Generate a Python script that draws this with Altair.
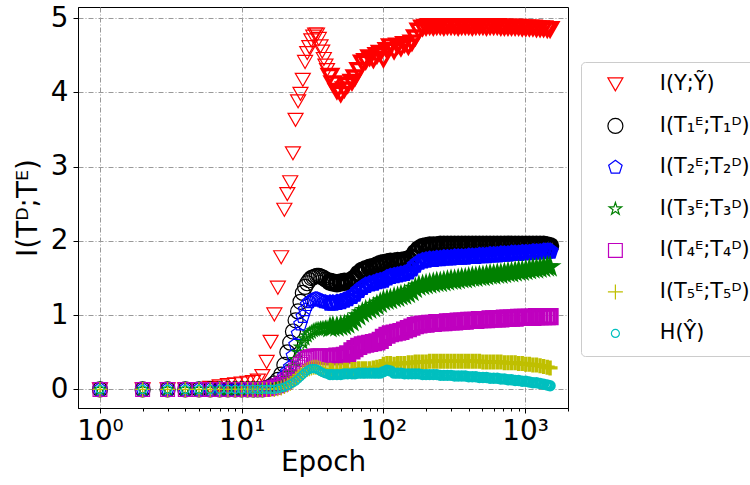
import altair as alt
import pandas as pd

# ---------------- data ----------------
epochs = list(range(1, 41)) + [
    42, 44, 47, 50, 53, 56, 60, 63, 67, 71,
    75, 80, 85, 90, 95, 100, 106, 112, 119, 126,
    133, 141, 150, 159, 168, 178, 189, 200, 212, 225,
    238, 252, 267, 283, 300, 318, 337, 357, 378, 400,
    424, 449, 476, 504, 534, 566, 600, 636, 674, 714,
    757, 802, 850, 900, 954, 1011, 1071, 1135, 1203, 1275,
    1351, 1432, 1500]

red = [0, 0, 0, 0, 0, 0.02, 0.04, 0.06, 0.07, 0.08,
       0.09, 0.1, 0.12, 0.18, 0.37, 0.64, 1.01, 1.37, 1.78, 2.42,
       2.63, 2.79, 3.18, 3.63, 3.88, 3.98, 4.17, 4.41, 4.53, 4.61,
       4.7, 4.75, 4.78, 4.78, 4.72, 4.62, 4.55, 4.45, 4.36, 4.3,
       4.22, 4.12, 4.02, 3.98, 4.04, 4.1, 4.14, 4.2, 4.3, 4.4,
       4.42, 4.47, 4.44, 4.5, 4.53, 4.45, 4.57, 4.62, 4.56, 4.63,
       4.6, 4.65, 4.62, 4.67, 4.74, 4.83, 4.87, 4.88, 4.89, 4.88,
       4.89, 4.89, 4.88, 4.89, 4.89, 4.89, 4.88, 4.89, 4.89, 4.89,
       4.88, 4.89, 4.89, 4.89, 4.88, 4.89, 4.89, 4.89, 4.88, 4.88,
       4.88, 4.88, 4.88, 4.88, 4.87, 4.87, 4.87, 4.87, 4.86, 4.86,
       4.86, 4.85, 4.85]

black = [0, 0, 0, 0, 0, 0, 0, 0, 0, 0,
         0, 0, 0, 0, 0.02, 0.04, 0.08, 0.13, 0.2, 0.33,
         0.5, 0.63, 0.78, 0.93, 1.05, 1.18, 1.3, 1.38, 1.43, 1.47,
         1.5, 1.51, 1.52, 1.53, 1.53, 1.52, 1.51, 1.5, 1.48, 1.47,
         1.45, 1.44, 1.43, 1.44, 1.45, 1.45, 1.47, 1.5, 1.56, 1.6,
         1.62, 1.64, 1.65, 1.67, 1.69, 1.7, 1.71, 1.72, 1.72, 1.73,
         1.73, 1.74, 1.75, 1.78, 1.84, 1.89, 1.92, 1.93, 1.94, 1.94,
         1.94, 1.95, 1.95, 1.95, 1.95, 1.95, 1.95, 1.95, 1.95, 1.95,
         1.95, 1.95, 1.95, 1.95, 1.95, 1.95, 1.95, 1.95, 1.95, 1.95,
         1.95, 1.95, 1.95, 1.95, 1.95, 1.95, 1.95, 1.95, 1.95, 1.95,
         1.95, 1.94, 1.93]

blue = [0, 0, 0, 0, 0, 0, 0, 0, 0, 0,
        0, 0, 0, 0, 0, 0.02, 0.04, 0.07, 0.11, 0.18,
        0.24, 0.3, 0.45, 0.6, 0.75, 0.88, 0.98, 1.07, 1.14, 1.18,
        1.2, 1.21, 1.22, 1.22, 1.21, 1.2, 1.19, 1.18, 1.18, 1.17,
        1.16, 1.16, 1.17, 1.18, 1.2, 1.22, 1.25, 1.28, 1.33, 1.37,
        1.4, 1.42, 1.43, 1.45, 1.46, 1.47, 1.5, 1.52, 1.53, 1.54,
        1.55, 1.56, 1.58, 1.62, 1.67, 1.71, 1.73, 1.74, 1.75, 1.75,
        1.76, 1.76, 1.77, 1.77, 1.77, 1.78, 1.78, 1.78, 1.78, 1.79,
        1.79, 1.79, 1.8, 1.8, 1.8, 1.81, 1.81, 1.81, 1.82, 1.82,
        1.82, 1.83, 1.83, 1.83, 1.84, 1.84, 1.84, 1.85, 1.85, 1.85,
        1.86, 1.86, 1.86]

green = [0, 0, 0, 0, 0, 0, 0, 0, 0, 0,
         0, 0, 0, 0, 0, 0, 0.02, 0.04, 0.07, 0.1,
         0.15, 0.22, 0.3, 0.4, 0.5, 0.57, 0.63, 0.68, 0.72, 0.75,
         0.77, 0.79, 0.8, 0.81, 0.81, 0.82, 0.82, 0.82, 0.83, 0.83,
         0.83, 0.84, 0.84, 0.85, 0.86, 0.88, 0.91, 0.95, 0.99, 1.03,
         1.06, 1.08, 1.1, 1.13, 1.16, 1.19, 1.2, 1.21, 1.23, 1.24,
         1.26, 1.27, 1.29, 1.32, 1.36, 1.39, 1.4, 1.41, 1.42, 1.43,
         1.44, 1.44, 1.45, 1.46, 1.47, 1.47, 1.48, 1.49, 1.49, 1.5,
         1.51, 1.51, 1.52, 1.52, 1.53, 1.54, 1.54, 1.55, 1.55, 1.56,
         1.57, 1.57, 1.58, 1.59, 1.59, 1.6, 1.61, 1.62, 1.62, 1.63,
         1.64, 1.65, 1.65]

magenta = [0, 0, 0, 0, 0, 0, 0, 0, 0, 0,
           0, 0, 0, 0, 0.01, 0.02, 0.03, 0.05, 0.07, 0.1,
           0.13, 0.17, 0.21, 0.26, 0.3, 0.34, 0.37, 0.4, 0.42, 0.43,
           0.44, 0.44, 0.45, 0.45, 0.45, 0.45, 0.44, 0.44, 0.44, 0.44,
           0.44, 0.44, 0.45, 0.45, 0.46, 0.48, 0.52, 0.55, 0.58, 0.6,
           0.61, 0.62, 0.63, 0.64, 0.66, 0.7, 0.73, 0.75, 0.76, 0.77,
           0.78, 0.8, 0.82, 0.84, 0.86, 0.87, 0.88, 0.88, 0.89, 0.89,
           0.9, 0.9, 0.9, 0.91, 0.91, 0.91, 0.92, 0.92, 0.92, 0.93,
           0.93, 0.93, 0.94, 0.94, 0.94, 0.95, 0.95, 0.95, 0.95, 0.96,
           0.96, 0.96, 0.96, 0.97, 0.97, 0.97, 0.97, 0.97, 0.98, 0.98,
           0.98, 0.98, 0.98]

yellow = [0, 0, 0, 0, 0, 0, 0, 0, 0, 0,
          0, 0, 0, 0, 0, 0, 0, 0.01, 0.02, 0.04,
          0.06, 0.08, 0.11, 0.14, 0.17, 0.2, 0.23, 0.25, 0.27, 0.28,
          0.29, 0.3, 0.3, 0.3, 0.29, 0.28, 0.27, 0.27, 0.26, 0.26,
          0.26, 0.25, 0.25, 0.25, 0.26, 0.26, 0.27, 0.27, 0.28, 0.28,
          0.28, 0.28, 0.29, 0.3, 0.31, 0.34, 0.35, 0.35, 0.34, 0.35,
          0.35, 0.35, 0.36, 0.36, 0.37, 0.37, 0.37, 0.37, 0.38, 0.38,
          0.38, 0.38, 0.38, 0.38, 0.38, 0.38, 0.38, 0.38, 0.38, 0.38,
          0.38, 0.38, 0.38, 0.37, 0.37, 0.37, 0.37, 0.37, 0.37, 0.36,
          0.36, 0.36, 0.36, 0.35, 0.35, 0.34, 0.34, 0.33, 0.33, 0.32,
          0.31, 0.3, 0.29]

cyan = [0, 0, 0, 0, 0, 0, 0, 0, 0, 0,
        0, 0, 0, 0, 0, 0, 0, 0.01, 0.02, 0.03,
        0.05, 0.07, 0.09, 0.11, 0.14, 0.17, 0.2, 0.23, 0.25, 0.27,
        0.28, 0.28, 0.28, 0.27, 0.26, 0.24, 0.23, 0.22, 0.21, 0.21,
        0.2, 0.2, 0.2, 0.2, 0.21, 0.21, 0.21, 0.21, 0.22, 0.22,
        0.22, 0.22, 0.22, 0.22, 0.22, 0.24, 0.26, 0.25, 0.22, 0.22,
        0.22, 0.21, 0.21, 0.21, 0.21, 0.21, 0.2, 0.2, 0.2, 0.2,
        0.2, 0.19, 0.19, 0.19, 0.19, 0.18, 0.18, 0.18, 0.18, 0.17,
        0.17, 0.17, 0.16, 0.16, 0.16, 0.15, 0.15, 0.15, 0.14, 0.14,
        0.13, 0.13, 0.12, 0.12, 0.11, 0.11, 0.1, 0.09, 0.09, 0.08,
        0.07, 0.06, 0.05]

series_names = ["I(Y;Ỹ)", "I(T₁ᴱ;T₁ᴰ)", "I(T₂ᴱ;T₂ᴰ)", "I(T₃ᴱ;T₃ᴰ)",
                "I(T₄ᴱ;T₄ᴰ)", "I(T₅ᴱ;T₅ᴰ)", "H(Ŷ)"]
series_values = [red, black, blue, green, magenta, yellow, cyan]

major_ticks = [1, 10, 100, 1000]
minor_ticks = [2, 3, 4, 5, 6, 7, 8, 9, 20, 30, 40, 50, 60, 70, 80, 90,
               200, 300, 400, 500, 600, 700, 800, 900, 2000]
major_labels = ["10⁰", "10¹", "10²", "10³"]
y_ticks = [0, 1, 2, 3, 4, 5]

# ---------------- styles ----------------
colors = ["#ff0000", "#000000", "#0000ff", "#008000", "#bf00bf", "#bfbf00", "#00bfbf"]
pentagon = "M0,-1L0.951,-0.309L0.588,0.809L-0.588,0.809L-0.951,-0.309Z"
star = ("M0,-1L0.2245,-0.309L0.951,-0.309L0.363,0.118L0.588,0.809L0,0.382"
        "L-0.588,0.809L-0.363,0.118L-0.951,-0.309L-0.2245,-0.309Z")
plus = "M-1,0L1,0M0,-1L0,1"
shapes = ["triangle-down", "circle", pentagon, star, "square", plus, "circle"]
sizes = [225, 225, 200, 170, 190, 225, 64]

rows = []
for name, vals in zip(series_names, series_values):
    for e, v in zip(epochs, vals):
        rows.append({"epoch": e, "value": v, "series": name})
df = pd.DataFrame(rows)

all_x_ticks = sorted(major_ticks + minor_ticks)
label_expr = " : ".join(
    f"datum.value == {t} ? '{lab}'" for t, lab in zip(major_ticks, major_labels)
) + " : ''"
is_major = " || ".join(f"datum.value == {t}" for t in major_ticks)

FONT = "DejaVu Sans"
grid_dash = [5, 2, 1, 2]

legend = alt.Legend(
    title=None, orient="none", legendX=503, legendY=55,
    labelFont=FONT, labelFontSize=20.8, labelColor="black",
    padding=12, rowPadding=19.5, symbolOffset=12, labelOffset=34,
    symbolStrokeWidth=1.2, strokeColor="#cccccc", fillColor="white",
    cornerRadius=4, labelLimit=300,
)

chart = alt.Chart(df).mark_point(filled=False, opacity=1).encode(
    x=alt.X("epoch:Q",
            scale=alt.Scale(type="log", domain=[0.7, 2007], nice=False),
            axis=alt.Axis(
                values=all_x_ticks, labelExpr=label_expr, title="Epoch",
                grid=True,
                gridOpacity={"condition": {"test": is_major, "value": 1}, "value": 0},
                tickSize={"condition": {"test": is_major, "value": 5}, "value": 3},
                labelOverlap=False, labelBound=False, labelFlush=False,
                labelPadding=4, titlePadding=4,
            )),
    y=alt.Y("value:Q",
            scale=alt.Scale(domain=[-0.25, 5.15], nice=False, zero=False),
            axis=alt.Axis(values=y_ticks, format="d", title="I(Tᴰ;Tᴱ)",
                          tickSize=5, labelPadding=5, labelOverlap=False,
                          titlePadding=8)),
    color=alt.Color("series:N", scale=alt.Scale(domain=series_names, range=colors), legend=legend),
    shape=alt.Shape("series:N", scale=alt.Scale(domain=series_names, range=shapes), legend=legend),
    size=alt.Size("series:N", scale=alt.Scale(type="ordinal", domain=series_names, range=sizes), legend=legend),
    strokeWidth=alt.condition("datum.epoch > 40", alt.value(3.4), alt.value(1.2)),
).properties(
    width=490, height=401,
    autosize=alt.AutoSizeParams(type="none"),
    padding={"left": 78, "top": 7, "right": 182, "bottom": 77},
).configure(
    font=FONT,
).configure_view(
    stroke="black", strokeWidth=1,
).configure_axis(
    labelFont=FONT, labelFontSize=27.8, labelColor="black",
    titleFont=FONT, titleFontSize=27.8, titleFontWeight="normal", titleColor="black",
    domainColor="black", domainWidth=1, tickColor="black", tickWidth=1,
    gridColor="#999999", gridDash=grid_dash, gridWidth=1,
)

chart.save("out.html", embed_options={"renderer": "svg", "actions": False})
